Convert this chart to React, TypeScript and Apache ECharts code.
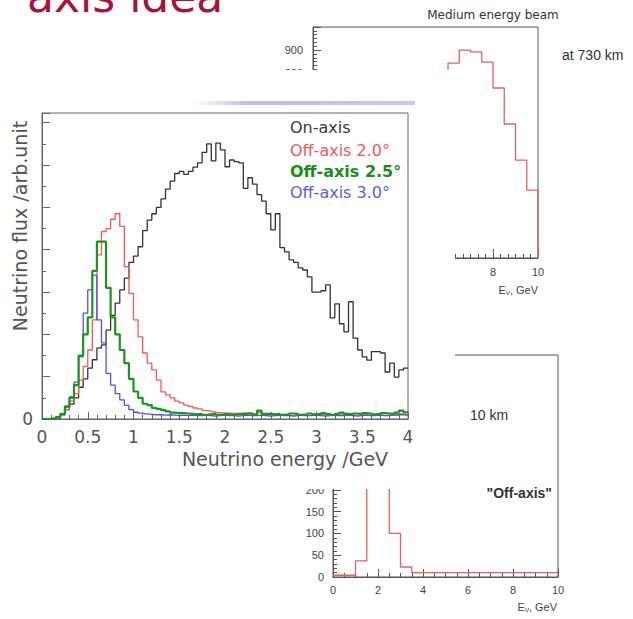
import React, { useEffect, useRef } from "react";
import * as echarts from "echarts";

// ---------- Main plot: neutrino flux, 0.05 GeV bins from 0 to 4 GeV ----------
const BIN_GEV = 0.05;
const onAxis = [
  0, 0, 0.02, 0.05, 0.12, 0.22, 0.35, 0.5, 0.75, 0.95,
  1.2, 1.4, 1.68, 1.75, 2.1, 2.45, 2.74, 3.05, 3.33, 3.7,
  3.85, 4.07, 4.45, 4.7, 4.85, 5.0, 5.2, 5.43, 5.62, 5.8,
  5.85, 5.78, 5.85, 5.95, 6.05, 6.3, 6.5, 6.1, 6.52, 6.36,
  5.96, 6.12, 6.08, 6.05, 5.45, 5.7, 5.55, 5.3, 5.15, 4.85,
  4.47, 4.85, 4.05, 3.95, 3.76, 3.7, 3.57, 3.52, 3.36, 3.0,
  3.0, 3.03, 3.17, 2.39, 2.72, 2.25, 2.06, 2.77, 1.91, 1.63,
  1.47, 1.39, 1.59, 1.59, 1.56, 1.11, 1.32, 0.99, 1.16, 1.2,
];
const offAxis20 = [
  0, 0, 0.01, 0.04, 0.1, 0.22, 0.42, 0.6, 0.92, 1.24,
  1.63, 2.34, 3.88, 4.43, 4.5, 4.72, 4.85, 4.55, 3.6, 2.97,
  2.34, 1.94, 1.56, 1.32, 1.16, 0.92, 0.64, 0.57, 0.5, 0.42,
  0.38, 0.33, 0.3, 0.26, 0.24, 0.2, 0.19, 0.17, 0.15, 0.14,
  0.14, 0.13, 0.13, 0.14, 0.15, 0.14, 0.12, 0.15, 0.1, 0.09,
  0.09, 0.08, 0.1, 0.09, 0.08, 0.09, 0.1, 0.08, 0.09, 0.09,
  0.08, 0.1, 0.09, 0.08, 0.09, 0.1, 0.09, 0.08, 0.09, 0.1,
  0.09, 0.08, 0.1, 0.09, 0.08, 0.09, 0.1, 0.1, 0.12, 0.11,
];
const offAxis25 = [
  0, 0, 0.01, 0.04, 0.12, 0.3, 0.5, 0.8, 1.5, 2.0,
  2.4, 3.5, 4.19, 4.19, 3.1, 2.4, 2.0, 1.63, 1.32, 0.95,
  0.65, 0.5, 0.36, 0.33, 0.26, 0.24, 0.21, 0.18, 0.15, 0.14,
  0.14, 0.13, 0.12, 0.11, 0.12, 0.1, 0.11, 0.12, 0.1, 0.11,
  0.12, 0.1, 0.11, 0.12, 0.11, 0.13, 0.1, 0.2, 0.12, 0.12,
  0.11, 0.12, 0.1, 0.11, 0.13, 0.12, 0.1, 0.11, 0.13, 0.11,
  0.12, 0.14, 0.12, 0.1, 0.12, 0.15, 0.12, 0.11, 0.13, 0.12,
  0.14, 0.13, 0.11, 0.12, 0.14, 0.13, 0.12, 0.15, 0.2, 0.16,
];
const offAxis30 = [
  0, 0, 0.01, 0.03, 0.1, 0.28, 0.52, 0.87, 1.47, 2.5,
  3.05, 3.4, 2.34, 1.8, 1.08, 0.8, 0.6, 0.45, 0.32, 0.22,
  0.16, 0.14, 0.12, 0.11, 0.1, 0.1, 0.09, 0.1, 0.09, 0.08,
  0.09, 0.08, 0.09, 0.08, 0.08, 0.09, 0.08, 0.07, 0.08, 0.09,
  0.08, 0.08, 0.07, 0.08, 0.09, 0.08, 0.08, 0.09, 0.08, 0.07,
  0.08, 0.09, 0.08, 0.08, 0.07, 0.08, 0.09, 0.08, 0.08, 0.09,
  0.08, 0.07, 0.08, 0.09, 0.08, 0.08, 0.09, 0.08, 0.07, 0.08,
  0.09, 0.08, 0.08, 0.09, 0.08, 0.08, 0.09, 0.1, 0.1, 0.09,
];
const seriesNames = ["On-axis", "Off-axis 2.0°", "Off-axis 2.5°", "Off-axis 3.0°"];

// ---------- Top-right inset: medium energy beam at 730 km (0.5 GeV bins) ----------
const medBeamBinStarts = [5.5, 6, 6.5, 7, 7.5, 8, 8.5, 9, 9.5];
const medBeamCounts = [780, 844, 900, 892, 848, 736, 580, 424, 294];
const medBeamYLabels = [800, 900];
const medBeamXLabels = [8, 10];

// ---------- Bottom-right inset: "Off-axis" at 10 km (0.5 GeV bins) ----------
const offAxisBinStarts = [0, 0.5, 1, 1.5, 2, 2.5, 3, 3.5, 4, 4.5, 5, 5.5, 6, 6.5, 7, 7.5, 8, 8.5, 9, 9.5];
const offAxisCounts = [4, 4, 37, 450, 400, 100, 23, 10, 10, 10, 10, 10, 10, 10, 10, 10, 10, 10, 10, 10];
const offAxisYLabels = [0, 50, 100, 150, 200];

const steps = (vals: number[], width: number) => {
  const pts = vals.map((v, i) => [i * width, v]);
  pts.push([vals.length * width, vals[vals.length - 1]]);
  return pts;
};
const stepsFromStarts = (starts: number[], vals: number[], width: number) => {
  const pts = vals.map((v, i) => [starts[i], v]);
  pts.push([starts[starts.length - 1] + width, vals[vals.length - 1]]);
  return pts;
};
const only = (list: number[]) => (v: number) => (list.indexOf(v) >= 0 ? String(v) : "");

const SANS = "DejaVu Sans";
const ARIAL = "Liberation Sans";

export default function App() {
  const ref = useRef<HTMLDivElement>(null);
  useEffect(() => {
    if (!ref.current) return;
    const chart = echarts.init(ref.current, undefined, { renderer: "svg" });

    const insetAxisCommon = {
      axisLine: { show: true, lineStyle: { color: "#555", width: 1 } },
      splitLine: { show: false },
      axisLabel: { color: "#444", fontSize: 11, fontFamily: ARIAL },
    };

    const medData = stepsFromStarts(medBeamBinStarts, medBeamCounts, 0.5);
    const lastMed = medData[medData.length - 1];
    medData.push([lastMed[0], 0]);

    const sub = {
      e: { fontSize: 11, fontFamily: ARIAL, fill: "#444" },
      s: { fontSize: 8, fontFamily: ARIAL, fill: "#444", padding: [5, 0, 0, 0] },
    };

    const option: any = {
      animation: false,
      backgroundColor: "#fff",
      grid: [
        { left: 42, top: 113, width: 366, height: 306, show: true, borderColor: "#666", borderWidth: 1, backgroundColor: "transparent", z: 20 },
        { left: 313, top: 27, width: 225, height: 231, show: true, borderColor: "#555", borderWidth: 1, backgroundColor: "transparent", z: 1 },
        { left: 333, top: 355, width: 225, height: 222, show: true, borderColor: "#555", borderWidth: 1, backgroundColor: "transparent", z: 1 },
      ],
      xAxis: [
        {
          gridIndex: 0, type: "value", min: 0, max: 4, interval: 0.5, z: 21,
          axisLine: { show: true, lineStyle: { color: "#666" } },
          axisTick: { show: true, inside: true, length: 7, lineStyle: { color: "#666" } },
          minorTick: { show: true, splitNumber: 5, length: 4, lineStyle: { color: "#666" } },
          splitLine: { show: false },
          axisLabel: { color: "#555", fontSize: 17, fontFamily: SANS, margin: 9 },
        },
        {
          gridIndex: 1, type: "value", min: 0, max: 10, interval: 2, z: 1, ...insetAxisCommon,
          axisTick: { show: true, inside: true, length: 9, lineStyle: { color: "#555" } },
          minorTick: { show: true, splitNumber: 6, length: 4, lineStyle: { color: "#555" } },
          axisLabel: { ...insetAxisCommon.axisLabel, margin: 8, formatter: only(medBeamXLabels) },
        },
        {
          gridIndex: 2, type: "value", min: 0, max: 10, interval: 2, z: 1, ...insetAxisCommon,
          axisTick: { show: true, inside: true, length: 8, lineStyle: { color: "#555" } },
          minorTick: { show: true, splitNumber: 4, length: 4, lineStyle: { color: "#555" } },
          axisLabel: { ...insetAxisCommon.axisLabel, margin: 7 },
        },
      ],
      yAxis: [
        {
          gridIndex: 0, type: "value", min: 0, max: 7.23, interval: 1, z: 21,
          axisLine: { show: true, lineStyle: { color: "#666" } },
          axisTick: { show: true, inside: true, length: 8, lineStyle: { color: "#666" } },
          minorTick: { show: true, splitNumber: 2, length: 4, lineStyle: { color: "#666" } },
          splitLine: { show: false },
          axisLabel: { color: "#555", fontSize: 17, fontFamily: SANS, margin: 9, formatter: (v: number) => (v === 0 ? "0" : "") },
        },
        {
          gridIndex: 1, type: "value", min: 0, max: 1000, interval: 100, z: 1, ...insetAxisCommon,
          axisTick: { show: true, inside: true, length: 8, lineStyle: { color: "#555" } },
          minorTick: { show: true, splitNumber: 6, length: 4, lineStyle: { color: "#555" } },
          axisLabel: { ...insetAxisCommon.axisLabel, margin: 10, showMaxLabel: false, formatter: only(medBeamYLabels) },
        },
        {
          gridIndex: 2, type: "value", min: 0, max: 510, interval: 50, z: 1, ...insetAxisCommon,
          axisTick: { show: true, inside: true, length: 8, lineStyle: { color: "#555" } },
          minorTick: { show: true, splitNumber: 5, length: 4, lineStyle: { color: "#555" } },
          axisLabel: { ...insetAxisCommon.axisLabel, margin: 9, formatter: only(offAxisYLabels) },
        },
      ],
      series: [
        {
          name: "Medium energy beam", type: "line", xAxisIndex: 1, yAxisIndex: 1, step: "end", symbol: "none", z: 2,
          lineStyle: { color: "#e86060", width: 1.3 }, data: medData,
        },
        {
          name: "Off-axis 10 km", type: "line", xAxisIndex: 2, yAxisIndex: 2, step: "end", symbol: "none", z: 2,
          lineStyle: { color: "#e86060", width: 1.3 }, data: stepsFromStarts(offAxisBinStarts, offAxisCounts, 0.5),
        },
        {
          name: seriesNames[0], type: "line", xAxisIndex: 0, yAxisIndex: 0, step: "end", symbol: "none", z: 22,
          lineStyle: { color: "#333", width: 1.3 }, data: steps(onAxis, BIN_GEV),
        },
        {
          name: seriesNames[1], type: "line", xAxisIndex: 0, yAxisIndex: 0, step: "end", symbol: "none", z: 23,
          lineStyle: { color: "#f25a5a", width: 1.3 }, data: steps(offAxis20, BIN_GEV),
        },
        {
          name: seriesNames[3], type: "line", xAxisIndex: 0, yAxisIndex: 0, step: "end", symbol: "none", z: 24,
          lineStyle: { color: "#5050f0", width: 1.3 }, data: steps(offAxis30, BIN_GEV),
        },
        {
          name: seriesNames[2], type: "line", xAxisIndex: 0, yAxisIndex: 0, step: "end", symbol: "none", z: 25,
          lineStyle: { color: "#1a961a", width: 2.2 }, data: steps(offAxis25, BIN_GEV),
        },
      ],
      graphic: [
        // white panel of the main plot covering the insets
        { type: "rect", z: 10, shape: { x: 0, y: 70, width: 455, height: 419 }, style: { fill: "#fff" } },
        {
          type: "rect", z: 11, shape: { x: 193, y: 101, width: 222, height: 4 },
          style: {
            fill: new echarts.graphic.LinearGradient(0, 0, 1, 0, [
              { offset: 0, color: "rgba(180,186,222,0)" },
              { offset: 0.25, color: "rgba(180,186,222,0.9)" },
              { offset: 1, color: "rgba(190,196,228,0.9)" },
            ]),
          },
        },
        // slide title (cropped at the top, as in the slide)
        { type: "text", z: 30, x: 27, y: -4, style: { text: "axis idea", fill: "#a8123a", fontSize: 44, fontFamily: SANS, align: "left", verticalAlign: "middle" } },
        // inset texts
        { type: "text", z: 5, x: 493, y: 15, style: { text: "Medium energy beam", fill: "#333", fontSize: 12, fontFamily: SANS, align: "center", verticalAlign: "middle" } },
        { type: "text", z: 5, x: 562, y: 55, style: { text: "at 730 km", fill: "#333", fontSize: 14, fontFamily: ARIAL, align: "left", verticalAlign: "middle" } },
        { type: "text", z: 5, x: 538, y: 290, style: { text: "{e|E}{s|ν}{e|, GeV}", rich: sub, align: "right", verticalAlign: "middle" } },
        { type: "text", z: 5, x: 470, y: 415, style: { text: "10 km", fill: "#333", fontSize: 14, fontFamily: ARIAL, align: "left", verticalAlign: "middle" } },
        { type: "text", z: 5, x: 552, y: 493, style: { text: "\"Off-axis\"", fill: "#333", fontSize: 14, fontWeight: "bold", fontFamily: ARIAL, align: "right", verticalAlign: "middle" } },
        { type: "text", z: 5, x: 557, y: 607, style: { text: "{e|E}{s|ν}{e|, GeV}", rich: sub, align: "right", verticalAlign: "middle" } },
        // main plot titles
        { type: "text", z: 30, x: 285, y: 459, style: { text: "Neutrino energy /GeV", fill: "#555", fontSize: 19, fontFamily: SANS, align: "center", verticalAlign: "middle" } },
        { type: "text", z: 30, x: 20, y: 226, rotation: Math.PI / 2, style: { text: "Neutrino flux /arb.unit", fill: "#555", fontSize: 19, fontFamily: SANS, align: "center", verticalAlign: "middle" } },
        // legend
        { type: "text", z: 30, x: 290, y: 127, style: { text: seriesNames[0], fill: "#3a3a3a", fontSize: 16, fontFamily: SANS, align: "left", verticalAlign: "middle" } },
        { type: "text", z: 30, x: 290, y: 150, style: { text: seriesNames[1], fill: "#f05a5a", fontSize: 16, fontFamily: SANS, align: "left", verticalAlign: "middle" } },
        { type: "text", z: 30, x: 290, y: 171, style: { text: seriesNames[2], fill: "#1c8c1c", fontSize: 16, fontWeight: "bold", fontFamily: SANS, align: "left", verticalAlign: "middle" } },
        { type: "text", z: 30, x: 290, y: 192, style: { text: seriesNames[3], fill: "#5b5bea", fontSize: 16, fontFamily: SANS, align: "left", verticalAlign: "middle" } },
      ],
    };
    chart.setOption(option);
    return () => chart.dispose();
  }, []);

  return (
    <div
      ref={ref}
      style={{ position: "fixed", left: 0, top: 0, width: 633, height: 619, background: "#fff" }}
    />
  );
}
